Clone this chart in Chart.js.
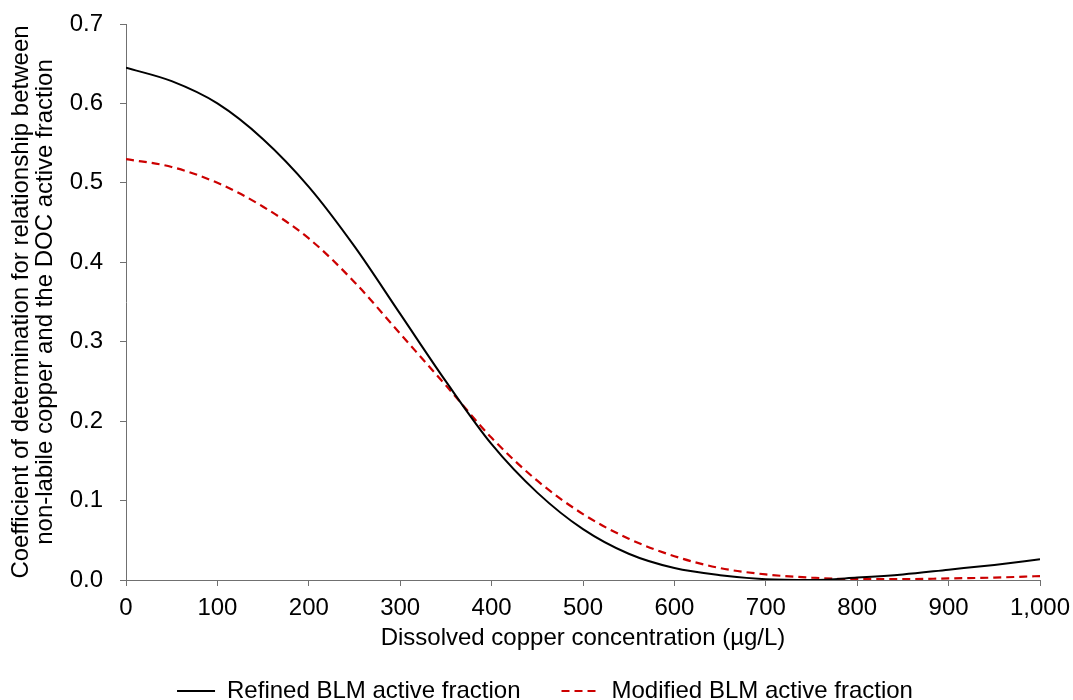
<!DOCTYPE html>
<html>
<head>
<meta charset="utf-8">
<script src="https://cdn.jsdelivr.net/npm/chart.js@4/dist/chart.umd.min.js"></script>
<style>
  html, body { margin: 0; padding: 0; background: #fff; }
  #wrap { width: 1073px; height: 700px; }
</style>
</head>
<body>
<div id="wrap"><canvas id="chart"></canvas></div>
<script>
const copperConc = [0, 50, 100, 150, 200, 250, 300, 350, 400, 450, 500, 550, 600, 650, 700, 750, 800, 850, 900, 950, 1000];
const refinedFraction = [0.645, 0.628, 0.600, 0.555, 0.495, 0.420, 0.335, 0.250, 0.171, 0.110, 0.064, 0.033, 0.015, 0.006, 0.001, 0.000, 0.003, 0.007, 0.013, 0.019, 0.026];
const modifiedFraction = [0.530, 0.520, 0.500, 0.470, 0.430, 0.375, 0.310, 0.245, 0.179, 0.125, 0.083, 0.052, 0.030, 0.015, 0.007, 0.003, 0.001, 0.001, 0.002, 0.003, 0.005];
const fontFamily = "Arial, 'Liberation Sans', sans-serif";
const textFont = { family: fontFamily, size: 24, lineHeight: 1.2 };

function toPoints(values) {
  return copperConc.map((x, i) => ({ x: x, y: values[i] }));
}

const ctx = document.getElementById("chart").getContext("2d");

new Chart(ctx, {
  type: "line",
  data: {
    datasets: [
      {
        label: "Refined BLM active fraction",
        data: toPoints(refinedFraction),
        borderColor: "#000000",
        borderWidth: 2,
        pointRadius: 0,
        cubicInterpolationMode: "monotone",
        fill: false,
      },
      {
        label: "Modified BLM active fraction",
        data: toPoints(modifiedFraction),
        borderColor: "#cc0000",
        borderWidth: 2.2,
        borderDash: [8, 5],
        pointRadius: 0,
        cubicInterpolationMode: "monotone",
        fill: false,
      },
    ],
  },
  options: {
    responsive: true,
    maintainAspectRatio: false,
    animation: false,
    layout: { padding: { top: 10, right: -3, left: 14, bottom: -13 } },
    plugins: {
      tooltip: { enabled: false },
      legend: {
        position: "bottom",
        labels: {
          usePointStyle: true,
          pointStyle: "line",
          pointStyleWidth: 38,
          color: "#000",
          font: textFont,
          padding: 41,
          generateLabels: (chart) => {
            const items = Chart.defaults.plugins.legend.labels.generateLabels(chart);
            return items.map((item) => {
              const ds = chart.data.datasets[item.datasetIndex];
              item.lineDash = ds.borderDash || [];
              item.lineWidth = 2;
              item.strokeStyle = ds.borderColor;
              return item;
            });
          },
        },
      },
    },
    scales: {
      x: {
        type: "linear",
        min: 0,
        max: 1000,
        afterFit: (scale) => {
          scale.height = 58;
          scale.paddingRight = 33;
        },
        ticks: {
          stepSize: 100,
          color: "#000",
          font: textFont,
          padding: 8,
          maxRotation: 0,
          callback: (v) => v.toLocaleString("en-US"),
        },
        grid: { drawOnChartArea: false, tickLength: 6, color: "#707070" },
        border: { color: "#707070", width: 1 },
        title: {
          display: true,
          text: "Dissolved copper concentration (µg/L)",
          color: "#000",
          font: textFont,
          padding: { top: 0, bottom: -15 },
        },
      },
      y: {
        min: 0,
        max: 0.7,
        afterFit: (scale) => {
          scale.width = 112;
          scale.paddingTop = 24;
        },
        ticks: {
          stepSize: 0.1,
          color: "#000",
          font: textFont,
          padding: 17,
          callback: (v) => v.toFixed(1),
        },
        grid: { drawOnChartArea: false, tickLength: 6, color: "#707070" },
        border: { color: "#707070", width: 1 },
        title: {
          display: true,
          text: ["Coefficient of determination for relationship between", "non-labile copper and the DOC active fraction"],
          color: "#000",
          font: { family: fontFamily, size: 24, lineHeight: 1 },
          padding: { top: -5, bottom: 0 },
        },
      },
    },
  },
});
</script>
</body>
</html>
